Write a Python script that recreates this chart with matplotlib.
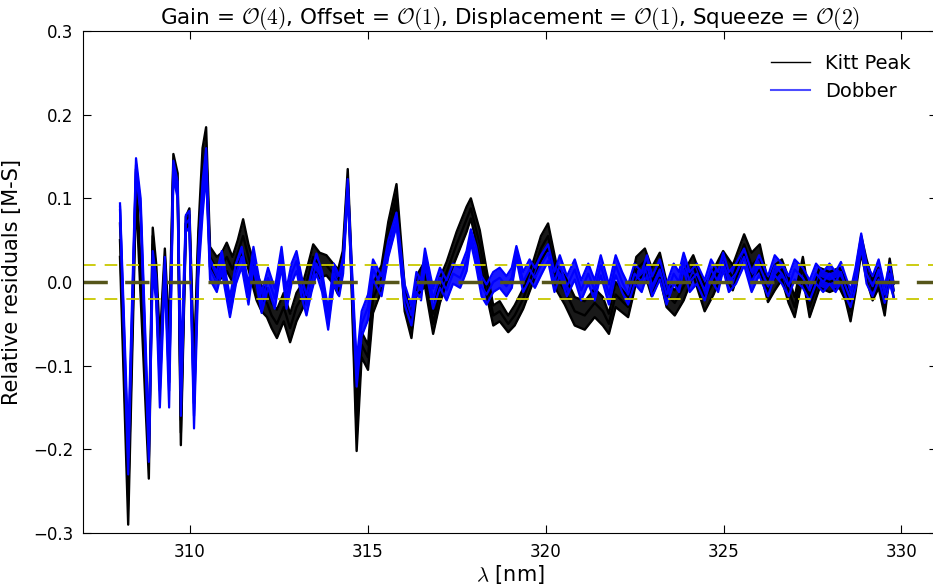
import matplotlib
matplotlib.use("Agg")
import matplotlib.pyplot as plt
from matplotlib.lines import Line2D
import numpy as np

plt.rcParams['font.family'] = ['DejaVu Sans']
plt.rcParams['mathtext.fontset'] = 'cm'

# Kitt Peak bundle rows: (wavelength nm, bundle centre, bundle half-width)
kitt_peak_rows = [
    (308.04, 0.05, 0.02), (308.27, -0.26, 0.03), (308.49, 0.12, 0.015), (308.85, -0.21, 0.025),
    (308.96, 0.055, 0.01), (309.06, 0.0, 0.02), (309.16, -0.09, 0.02), (309.30, 0.03, 0.01),
    (309.42, -0.09, 0.03), (309.54, 0.145, 0.008), (309.66, 0.12, 0.01), (309.75, -0.18, 0.015),
    (309.89, 0.07, 0.008), (309.99, 0.08, 0.008), (310.12, -0.12, 0.025), (310.24, 0.05, 0.01),
    (310.36, 0.13, 0.03), (310.46, 0.16, 0.025), (310.57, 0.03, 0.012), (310.76, 0.015, 0.015),
    (310.90, 0.02, 0.015), (311.04, 0.03, 0.017), (311.20, 0.015, 0.015), (311.35, 0.035, 0.015),
    (311.50, 0.055, 0.02), (311.65, 0.03, 0.015), (311.88, -0.005, 0.017), (312.02, -0.02, 0.015),
    (312.17, -0.025, 0.017), (312.30, -0.04, 0.015), (312.45, -0.05, 0.017), (312.64, -0.03, 0.017),
    (312.82, -0.055, 0.017), (313.00, -0.03, 0.017), (313.19, -0.015, 0.015), (313.35, 0.01, 0.015),
    (313.47, 0.03, 0.015), (313.65, 0.02, 0.015), (313.84, 0.02, 0.012), (314.03, 0.01, 0.012),
    (314.17, 0.0, 0.015), (314.30, 0.025, 0.012), (314.44, 0.125, 0.01), (314.53, 0.03, 0.012),
    (314.69, -0.18, 0.022), (314.83, -0.075, 0.015), (315.01, -0.09, 0.015), (315.15, -0.02, 0.017),
    (315.39, 0.005, 0.015), (315.58, 0.06, 0.012), (315.81, 0.105, 0.012), (316.04, -0.02, 0.015),
    (316.23, -0.055, 0.012), (316.37, -0.005, 0.012), (316.61, 0.01, 0.015), (316.84, -0.05, 0.012),
    (317.03, -0.01, 0.015), (317.22, 0.012, 0.012), (317.50, 0.045, 0.015), (317.78, 0.075, 0.015),
    (317.90, 0.088, 0.012), (318.15, 0.045, 0.017), (318.34, 0.0, 0.015), (318.53, -0.04, 0.012),
    (318.71, -0.035, 0.012), (318.95, -0.05, 0.01), (319.13, -0.04, 0.012), (319.37, -0.02, 0.012),
    (319.65, 0.012, 0.012), (319.87, 0.04, 0.015), (320.07, 0.055, 0.015), (320.31, 0.005, 0.015),
    (320.54, -0.01, 0.017), (320.82, -0.035, 0.017), (321.10, -0.04, 0.017), (321.38, -0.025, 0.017),
    (321.61, -0.035, 0.017), (321.78, -0.05, 0.012), (321.97, -0.015, 0.015), (322.32, -0.03, 0.012),
    (322.55, 0.015, 0.015), (322.79, 0.025, 0.015), (322.98, 0.0, 0.017), (323.21, 0.02, 0.015),
    (323.40, -0.015, 0.015), (323.63, -0.025, 0.015), (323.88, -0.005, 0.017), (324.15, 0.02, 0.012),
    (324.47, -0.02, 0.015), (324.72, 0.0, 0.015), (324.99, 0.025, 0.012), (325.26, 0.005, 0.015),
    (325.58, 0.045, 0.012), (325.79, 0.02, 0.015), (326.02, 0.03, 0.015), (326.25, -0.012, 0.012),
    (326.44, 0.005, 0.015), (326.64, 0.015, 0.012), (326.83, -0.01, 0.015), (327.00, -0.03, 0.012),
    (327.23, 0.018, 0.012), (327.42, -0.03, 0.012), (327.70, 0.005, 0.012), (327.98, 0.0, 0.012),
    (328.26, 0.005, 0.012), (328.43, -0.01, 0.012), (328.57, -0.035, 0.012), (328.71, 0.0, 0.012),
    (328.87, 0.045, 0.01), (329.02, 0.015, 0.012), (329.19, -0.01, 0.012), (329.36, 0.005, 0.012),
    (329.53, -0.03, 0.01), (329.67, 0.018, 0.01), (329.78, -0.01, 0.008),
]

# Dobber bundle rows: (wavelength nm, bundle centre, bundle half-width)
dobber_rows = [
    (308.04, 0.09, 0.004), (308.27, -0.21, 0.02), (308.49, 0.14, 0.008), (308.62, 0.09, 0.01),
    (308.85, -0.2, 0.015), (308.96, 0.025, 0.012), (309.06, -0.01, 0.015), (309.16, -0.13, 0.02),
    (309.30, 0.02, 0.01), (309.42, -0.13, 0.02), (309.54, 0.135, 0.01), (309.66, 0.11, 0.01),
    (309.75, -0.13, 0.03), (309.89, 0.07, 0.01), (309.99, 0.075, 0.01), (310.12, -0.16, 0.015),
    (310.24, 0.02, 0.015), (310.36, 0.1, 0.02), (310.46, 0.145, 0.015), (310.57, 0.015, 0.012),
    (310.76, 0.0, 0.012), (310.90, 0.025, 0.012), (311.13, -0.03, 0.012), (311.30, 0.01, 0.012),
    (311.46, 0.03, 0.012), (311.65, -0.015, 0.012), (311.79, 0.03, 0.012), (312.02, -0.025, 0.012),
    (312.20, 0.005, 0.012), (312.39, -0.02, 0.012), (312.58, 0.03, 0.012), (312.72, -0.02, 0.012),
    (312.86, 0.01, 0.012), (313.00, 0.025, 0.012), (313.14, -0.005, 0.012), (313.28, -0.028, 0.012),
    (313.42, 0.0, 0.012), (313.56, 0.022, 0.012), (313.72, 0.0, 0.012), (313.89, -0.045, 0.012),
    (314.05, 0.01, 0.012), (314.20, -0.005, 0.012), (314.31, 0.02, 0.01), (314.44, 0.115, 0.008),
    (314.53, 0.03, 0.01), (314.69, -0.11, 0.015), (314.83, -0.05, 0.015), (315.01, -0.03, 0.015),
    (315.15, 0.015, 0.012), (315.39, -0.005, 0.012), (315.58, 0.04, 0.01), (315.81, 0.075, 0.008),
    (316.04, -0.015, 0.012), (316.23, -0.04, 0.012), (316.37, 0.0, 0.012), (316.50, -0.01, 0.012),
    (316.61, 0.03, 0.01), (316.84, -0.02, 0.012), (317.03, 0.005, 0.012), (317.22, -0.01, 0.012),
    (317.40, 0.01, 0.012), (317.60, 0.005, 0.012), (317.78, 0.025, 0.012), (317.90, 0.055, 0.008),
    (318.05, 0.03, 0.012), (318.20, -0.005, 0.012), (318.34, -0.015, 0.012), (318.53, 0.0, 0.012),
    (318.71, 0.005, 0.012), (318.90, -0.005, 0.012), (319.05, 0.005, 0.012), (319.18, 0.035, 0.008),
    (319.37, 0.0, 0.012), (319.55, 0.015, 0.012), (319.70, 0.005, 0.012), (319.87, 0.02, 0.012),
    (320.07, 0.035, 0.01), (320.25, 0.0, 0.012), (320.40, 0.02, 0.012), (320.60, -0.005, 0.012),
    (320.82, 0.015, 0.012), (321.00, -0.01, 0.012), (321.20, 0.01, 0.012), (321.38, -0.01, 0.012),
    (321.55, 0.02, 0.012), (321.78, -0.015, 0.012), (321.97, 0.02, 0.012), (322.15, 0.0, 0.012),
    (322.32, -0.015, 0.012), (322.50, 0.01, 0.012), (322.70, 0.0, 0.012), (322.85, 0.02, 0.012),
    (323.00, -0.005, 0.012), (323.21, 0.015, 0.012), (323.40, -0.015, 0.012), (323.60, 0.01, 0.012),
    (323.75, 0.0, 0.012), (323.88, 0.025, 0.01), (324.05, 0.0, 0.012), (324.25, 0.01, 0.012),
    (324.47, -0.01, 0.012), (324.65, 0.015, 0.012), (324.85, 0.0, 0.012), (324.99, 0.025, 0.01),
    (325.15, 0.0, 0.012), (325.35, 0.01, 0.012), (325.58, 0.03, 0.01), (325.79, 0.0, 0.012),
    (326.00, 0.02, 0.012), (326.25, -0.005, 0.012), (326.44, 0.02, 0.012), (326.64, 0.01, 0.012),
    (326.83, -0.005, 0.012), (327.00, 0.015, 0.012), (327.23, 0.005, 0.012), (327.42, -0.01, 0.012),
    (327.60, 0.01, 0.012), (327.80, 0.0, 0.012), (327.98, 0.01, 0.012), (328.15, 0.0, 0.012),
    (328.30, 0.012, 0.012), (328.43, -0.005, 0.012), (328.57, -0.02, 0.01), (328.71, 0.005, 0.012),
    (328.87, 0.05, 0.008), (329.02, 0.01, 0.012), (329.19, -0.005, 0.012), (329.36, 0.015, 0.012),
    (329.53, -0.015, 0.01), (329.67, 0.01, 0.012), (329.78, -0.01, 0.008),
]

band_levels = [0.02, -0.02]
series_names = ['Kitt Peak', 'Dobber']
title = (r'Gain = $\mathcal{O}(4)$, Offset = $\mathcal{O}(1)$, '
         r'Displacement = $\mathcal{O}(1)$, Squeeze = $\mathcal{O}(2)$')

fig = plt.figure(figsize=(9.33, 5.88), dpi=100)
ax = fig.add_axes([83/933, 1-533/588, (937-83)/933, (533-31)/588])

def bundle(rows, color, lw):
    lam, mid, half = (np.array(c) for c in zip(*rows))
    ax.fill_between(lam, mid-half, mid+half, color=color, lw=0, alpha=0.9)
    ax.plot(lam, mid+half, color=color, lw=lw)
    ax.plot(lam, mid-half, color=color, lw=lw)
    ax.plot(lam, mid, color=color, lw=lw)

bundle(kitt_peak_rows, 'black', 1.7)
bundle(dobber_rows, 'blue', 1.6)

for lv in band_levels:
    ax.axhline(lv, color='#c8c800', ls=(0, (7, 5)), lw=1.3)
ax.axhline(0, color='#55551a', ls=(0, (7, 5)), lw=2.5)

ax.set_xlim(307, 331)
ax.set_ylim(-0.3, 0.3)
ax.set_xticks([310, 315, 320, 325, 330])
ax.set_yticks([-0.3, -0.2, -0.1, 0.0, 0.1, 0.2, 0.3])
ax.tick_params(direction='in', top=True, right=True, labelsize=12, length=6, pad=7)
ax.set_xlabel(r'$\lambda$ [nm]', fontsize=15, labelpad=2)
ax.set_ylabel('Relative residuals [M-S]', fontsize=15, labelpad=8)
ax.set_title(title, fontsize=15.5, pad=5)

handles = [Line2D([], [], color='black', lw=1),
           Line2D([], [], color='blue', lw=1.5, alpha=0.7)]
ax.legend(handles, series_names, loc='upper right', frameon=False,
          fontsize=14, bbox_to_anchor=(0.99, 0.99), handlelength=2.0)

fig.savefig('out.png', dpi=100, facecolor='white')
